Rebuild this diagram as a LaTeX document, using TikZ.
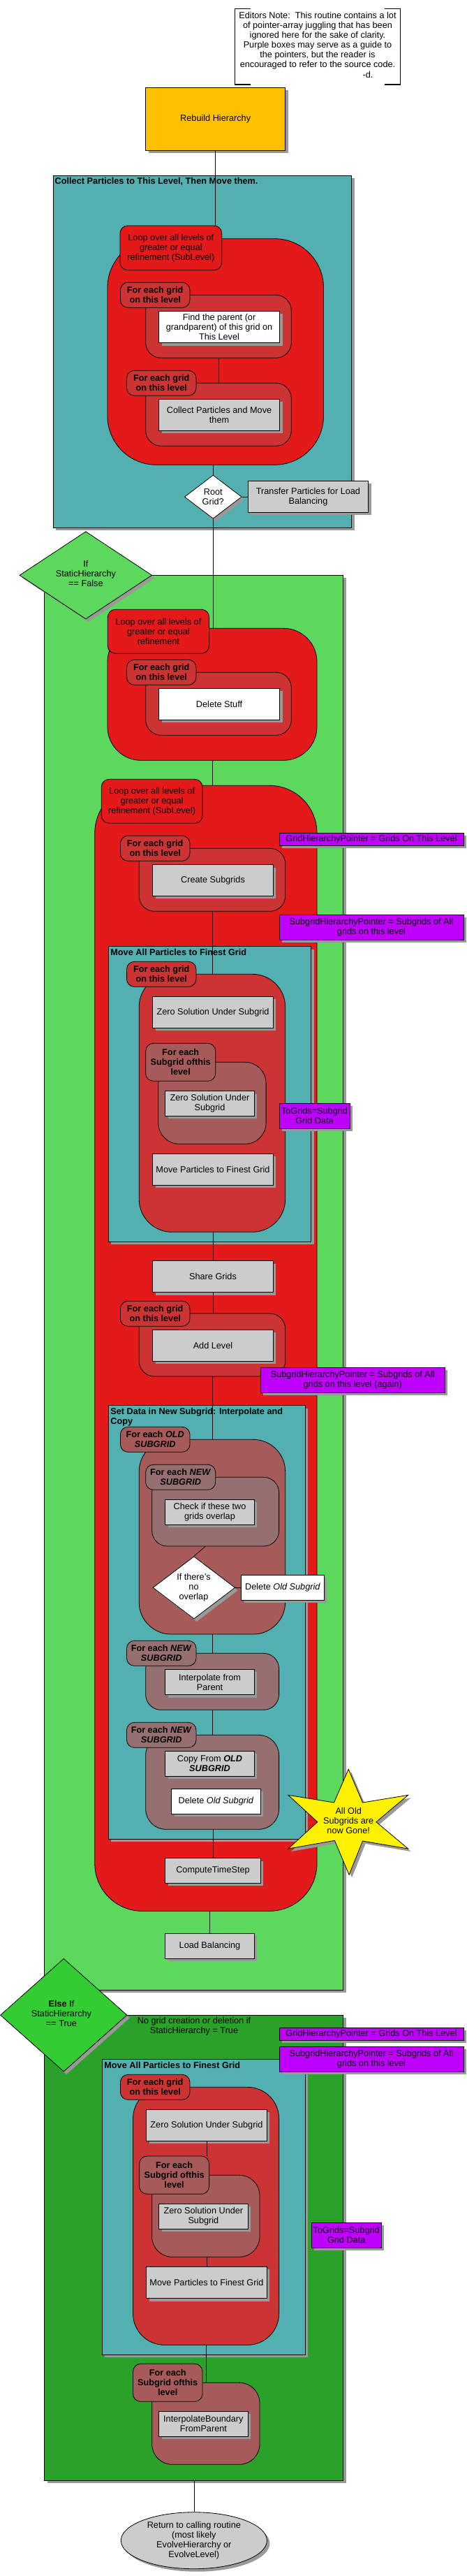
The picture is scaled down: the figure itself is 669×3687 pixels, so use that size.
\documentclass[tikz,border=0pt]{standalone}
\usepackage{fontspec}
\setmainfont{Liberation Sans}
\usetikzlibrary{shapes.geometric,shadows,calc}
\definecolor{shadowgray}{RGB}{153,153,153}
\definecolor{orangeC}{RGB}{255,192,0}
\definecolor{tealC}{RGB}{82,176,176}
\definecolor{redC}{RGB}{228,26,26}
\definecolor{dredC}{RGB}{204,52,52}
\definecolor{brownC}{RGB}{166,90,90}
\definecolor{newC}{RGB}{150,112,112}
\definecolor{lgreenC}{RGB}{92,216,92}
\definecolor{bgreenC}{RGB}{51,204,51}
\definecolor{dgreenC}{RGB}{42,162,42}
\definecolor{purpleC}{RGB}{192,0,255}
\definecolor{grayC}{RGB}{204,204,204}
\newcommand\mkbox[7]{%
  \pgfmathsetmacro\mkW{#5-#3}%
  \pgfmathsetmacro\mkH{#6-#4}%
  \pgfmathsetmacro\mkX{(#3+#5)/2}%
  \pgfmathsetmacro\mkY{(#4+#6)/2}%
  \node[#2, minimum width=\mkW pt, minimum height=\mkH pt] (#1) at (\mkX,\mkY) {#7};%
}
\tikzset{
  base/.style={font=\fontsize{12.7}{14}\selectfont, inner sep=1pt, align=center},
  lw/.style={line width=0.8pt},
  shad/.style={drop shadow={shadow xshift=4pt, shadow yshift=-4pt, fill=shadowgray, opacity=1}},
  pbox/.style={base, rectangle, draw, lw, shad},
  graybox/.style={pbox, fill=grayC},
  whitebox/.style={pbox, fill=white},
  purplebox/.style={pbox, fill=purpleC},
  container/.style={rectangle, draw, lw, shad},
  loopshape/.style={rectangle, draw, lw},
  looplab/.style={base, rectangle, draw, lw, rounded corners=11pt},
  boldlab/.style={looplab, font=\fontsize{12.7}{14}\selectfont\bfseries},
  titletext/.style={anchor=north west, inner sep=0pt, align=left, font=\fontsize{12.7}{14}\selectfont\bfseries},
  dia/.style={diamond, draw, lw, shad, inner sep=0pt},
  conn/.style={line width=0.7pt},
}
\begin{document}
\begin{tikzpicture}[x=1pt,y=-1pt]
\useasboundingbox (0,0) rectangle (669,3687);
\fill[white] (0,0) rectangle (669,3687);

% Editors note
\draw[line width=1.6pt] (359.1,12.3) -- (336.3,12.3) -- (336.3,121) -- (359.1,121);
\draw[line width=1.6pt] (550.6,12.3) -- (573.4,12.3) -- (573.4,121) -- (550.6,121);
\node[base] (notetext) at (455,58) {Editors Note:~~This routine contains a lot\\of pointer-array juggling that has been\\ignored here for the sake of clarity.\\Purple boxes may serve as a guide to\\the pointers, but the reader is\\encouraged to refer to the source code.};
\node[base] (notesig) at (527,107) {-d.};

\mkbox{rebuild}{pbox, fill=orangeC}{208.7}{125.3}{408.7}{215.3}{Rebuild Hierarchy}

% Collect particles
\mkbox{teal1}{container, fill=tealC}{76.3}{251.3}{503.5}{755.3}{}
\node[titletext] (teal1t) at (78.5,254) {Collect Particles to This Level, Then Move them.};
\mkbox{loop1}{loopshape, fill=redC, rounded corners=70pt}{154}{341.7}{463.5}{665.3}{}
\mkbox{lab1}{looplab, fill=redC}{172}{323}{317.7}{386.7}{Loop over all levels of\\greater or equal\\refinement (SubLevel)}
\mkbox{in1}{loopshape, fill=dredC, rounded corners=22pt}{208.7}{422.3}{417.3}{512.3}{}
\mkbox{lab1a}{boldlab, fill=dredC}{172.4}{404.3}{272}{440.3}{For each grid\\on this level}
\mkbox{find}{whitebox}{227.6}{445.3}{400.5}{490.7}{Find the parent (or\\grandparent) of this grid on\\This Level}
\mkbox{in2}{loopshape, fill=dredC, rounded corners=22pt}{208.7}{548.3}{417.3}{638.3}{}
\mkbox{lab1b}{boldlab, fill=dredC}{181.5}{530.3}{281}{566.3}{For each grid\\on this level}
\mkbox{collect}{graybox}{227.6}{571.3}{400.5}{616.3}{Collect Particles and Move\\them}
\mkbox{root}{dia, fill=white}{264.3}{680}{346.2}{742.3}{}
\node[base] (roott) at (root) {Root\\Grid?};
\mkbox{transfer}{graybox}{355.2}{688.3}{527.7}{733.3}{Transfer Particles for Load\\Balancing}

% StaticHierarchy == False
\mkbox{green1}{container, fill=lgreenC}{63.8}{823.3}{491.5}{2848.3}{}
\mkbox{ifd}{dia, fill=lgreenC}{28}{760.7}{217.7}{886}{}
\node[base] (ifdt) at (122.9,821) {If\\StaticHierarchy\\== False};

\mkbox{loop2}{loopshape, fill=redC, rounded corners=48pt}{154}{899.3}{454}{1088.3}{}
\mkbox{lab2}{looplab, fill=redC}{154.3}{872.3}{299.6}{935.3}{Loop over all levels of\\greater or equal\\refinement}
\mkbox{in2a}{loopshape, fill=dredC, rounded corners=22pt}{208.7}{962.3}{417.3}{1052.3}{}
\mkbox{lab2a}{boldlab, fill=dredC}{181.5}{944.3}{281}{980.3}{For each grid\\on this level}
\mkbox{delstuff}{whitebox}{227.6}{985.3}{400.5}{1030.3}{Delete Stuff}

\mkbox{loop3}{loopshape, fill=redC, rounded corners=68pt}{135.8}{1124.3}{454}{2735.3}{}
\mkbox{lab3}{looplab, fill=redC}{145.3}{1115.3}{290}{1178.3}{Loop over all levels of\\greater or equal\\refinement (SubLevel)}
\mkbox{in3a}{loopshape, fill=dredC, rounded corners=22pt}{199.2}{1214.3}{408.7}{1304.3}{}
\mkbox{lab3a}{boldlab, fill=dredC}{172.4}{1196.3}{272}{1232.3}{For each grid\\on this level}
\mkbox{create}{graybox}{218.6}{1237.7}{391.4}{1282.3}{Create Subgrids}

\mkbox{teal2}{container, fill=tealC}{155.2}{1354.7}{445.8}{1777.3}{}
\node[titletext] (teal2t) at (158.2,1358) {Move All Particles to Finest Grid};
\mkbox{in3b}{loopshape, fill=dredC, rounded corners=47pt}{199.2}{1394.3}{408.7}{1763.3}{}
\mkbox{lab3b}{boldlab, fill=dredC}{181.5}{1376.3}{281}{1412.3}{For each grid\\on this level}
\mkbox{zero1}{graybox}{218.6}{1426.3}{391.4}{1471.3}{Zero Solution Under Subgrid}
\mkbox{sg1}{loopshape, fill=brownC, rounded corners=30pt}{226.8}{1520.3}{381.1}{1637.3}{}
\mkbox{labsg1}{boldlab, fill=brownC}{208.7}{1493.3}{308.7}{1547.3}{For each\\Subgrid ofthis\\level}
\mkbox{zero1b}{graybox}{236.7}{1561.7}{364.3}{1597.3}{Zero Solution Under\\Subgrid}
\mkbox{mp1}{graybox}{218.6}{1651.3}{391.4}{1696.3}{Move Particles to Finest Grid}

\mkbox{share}{graybox}{218.6}{1804.7}{391.4}{1849.7}{Share Grids}
\mkbox{in3c}{loopshape, fill=dredC, rounded corners=22pt}{199.2}{1880}{408.7}{1970}{}
\mkbox{lab3c}{boldlab, fill=dredC}{172.4}{1862.3}{272}{1898.3}{For each grid\\on this level}
\mkbox{addlvl}{graybox}{218.6}{1903.3}{391.4}{1948.3}{Add Level}

\mkbox{teal3}{container, fill=tealC}{155.2}{2011.7}{437.2}{2632.3}{}
\node[titletext] (teal3t) at (158.2,2015) {Set Data in New Subgrid: Interpolate and\\Copy};
\mkbox{old}{loopshape, fill=brownC, rounded corners=46pt}{199.2}{2060.3}{408.7}{2339}{}
\mkbox{labold}{boldlab, fill=brownC}{172.4}{2042.3}{272}{2078.3}{For each \textit{OLD}\\\textit{SUBGRID}}
\mkbox{new1}{loopshape, fill=newC, rounded corners=22pt}{217.7}{2114.3}{399.6}{2213}{}
\mkbox{labnew1}{boldlab, fill=newC}{208.7}{2096.3}{308.7}{2132.3}{For each \textit{NEW}\\\textit{SUBGRID}}
\mkbox{check}{graybox}{236.7}{2146.3}{364.3}{2182.3}{Check if these two\\grids overlap}
\mkbox{ovl}{dia, fill=white}{219}{2227.7}{336.7}{2317}{}
\node[base] (ovlt) at (277.5,2272) {If there's\\no\\overlap};
\mkbox{delold1}{whitebox}{345.7}{2254.3}{464.3}{2290.3}{Delete \textit{Old Subgrid}}
\mkbox{new2}{loopshape, fill=newC, rounded corners=22pt}{208.7}{2366.3}{399.6}{2447.3}{}
\mkbox{labnew2}{boldlab, fill=newC}{181.5}{2348.3}{281}{2384.3}{For each \textit{NEW}\\\textit{SUBGRID}}
\mkbox{interp}{graybox}{236.7}{2389.3}{364.3}{2425.7}{Interpolate from\\Parent}
\mkbox{new3}{loopshape, fill=newC, rounded corners=29pt}{208.7}{2483.3}{399.6}{2618.3}{}
\mkbox{labnew3}{boldlab, fill=newC}{181.5}{2465.3}{281}{2501.3}{For each \textit{NEW}\\\textit{SUBGRID}}
\mkbox{copy}{graybox}{236.7}{2506.3}{364.3}{2542.3}{Copy From \textbf{\textit{OLD}}\\\textbf{\textit{SUBGRID}}}
\mkbox{delold2}{whitebox}{245.7}{2560.3}{373.3}{2596.3}{Delete \textit{Old Subgrid}}

\mkbox{cts}{graybox}{236.7}{2659.7}{373.3}{2695.3}{ComputeTimeStep}
\mkbox{lb}{graybox}{236.7}{2767.3}{364.3}{2803.3}{Load Balancing}

% pointer notes
\mkbox{pp1}{purplebox}{400}{1192.3}{664}{1210.3}{GridHierarchyPointer = Grids On This Level}
\mkbox{pp2}{purplebox}{400}{1309.3}{664}{1345.3}{SubgridHierarchyPointer = Subgrids of All\\grids on this level}
\mkbox{pp3}{purplebox}{400}{1579.3}{501}{1615.3}{ToGrids=Subgrid\\Grid Data}
\mkbox{pp4}{purplebox}{373.3}{1957.3}{637.2}{1993.3}{SubgridHierarchyPointer = Subgrids of All\\grids on this level (again)}

% star
\path[shad, draw, lw, fill=yellow] (499.2,2532.3) -- (519.5,2580) -- (584.6,2569.3) -- (538.9,2607.7) -- (584.6,2646) -- (519.5,2635) -- (500.1,2683.3) -- (479.4,2634.3) -- (413,2646) -- (454.8,2607.7) -- (413,2569.3) -- (478.5,2580) -- cycle;
\node[base] (startext) at (499.2,2605.7) {All Old\\Subgrids are\\now Gone!};

% StaticHierarchy == True
\mkbox{green2}{container, fill=dgreenC}{63.8}{2884.3}{491.5}{3550.3}{}
\mkbox{elsed}{dia, fill=bgreenC}{0.5}{2803.3}{182}{2965}{}
\node[base] (elsedt) at (88,2882) {\textbf{Else} If\\StaticHierarchy\\== True};
\node[base] (nogrid) at (278,2899.7) {No grid creation or deletion if\\StaticHierarchy = True};

\mkbox{teal4}{container, fill=tealC}{146.1}{2947.3}{437.2}{3370.3}{}
\node[titletext] (teal4t) at (149.2,2951) {Move All Particles to Finest Grid};
\mkbox{red4}{loopshape, fill=dredC, rounded corners=45pt}{190.5}{2987.3}{399.6}{3356.3}{}
\mkbox{lab4}{boldlab, fill=dredC}{172.4}{2969.3}{272}{3005.3}{For each grid\\on this level}
\mkbox{zero2}{graybox}{209.5}{3019.3}{382.4}{3064.3}{Zero Solution Under Subgrid}
\mkbox{sub2}{loopshape, fill=brownC, rounded corners=29pt}{217.7}{3113.3}{372}{3230.3}{}
\mkbox{labsub2}{boldlab, fill=brownC}{199.6}{3086}{299.6}{3140.3}{For each\\Subgrid ofthis\\level}
\mkbox{zero2b}{graybox}{227.6}{3154.3}{355.2}{3190.3}{Zero Solution Under\\Subgrid}
\mkbox{mp2}{graybox}{209.5}{3244.3}{382.4}{3289.7}{Move Particles to Finest Grid}
\mkbox{pp5}{purplebox}{400}{2902.3}{664}{2920.3}{GridHierarchyPointer = Grids On This Level}
\mkbox{pp6}{purplebox}{400}{2929.3}{664}{2965.3}{SubgridHierarchyPointer = Subgrids of All\\grids on this level}
\mkbox{pp7}{purplebox}{446.2}{3181.3}{546.2}{3217.3}{ToGrids=Subgrid\\Grid Data}

\mkbox{sub3}{loopshape, fill=brownC, rounded corners=29pt}{217.7}{3410.3}{372}{3527.3}{}
\mkbox{labsub3}{boldlab, fill=brownC}{190.5}{3383.3}{290}{3437.3}{For each\\Subgrid ofthis\\level}
\mkbox{ibfp}{graybox}{227.6}{3451.3}{355.2}{3487.3}{InterpolateBoundary\\FromParent}

\mkbox{ret}{ellipse, draw, lw, shad, fill=grayC, inner sep=0pt}{173.3}{3595.7}{382.4}{3676.7}{}
\node[base] (rett) at (ret) {Return to calling routine\\(most likely\\EvolveHierarchy or\\EvolveLevel)};

% connectors
\draw[conn] (rebuild.south) -- (rebuild.south |- lab1.north);
\draw[conn] (in1.south) -- (in2.north);
\draw[conn] (root.north) -- (root.north |- loop1.south);
\draw[conn] (root.east) -- (root.east -| transfer.west);
\draw[conn] (root.south) -- (root.south |- loop2.north);
\draw[conn] (loop2.south) -- (loop2.south |- loop3.north);
\draw[conn] (in3a.south) -- (in3a.south |- in3b.north);
\draw[conn] (share.north) -- (share.north |- in3b.south);
\draw[conn] (share.south) -- (share.south |- in3c.north);
\draw[conn] (in3c.south) -- (in3c.south |- old.north);
\draw[conn] ($(new1.south west)!0.42!(new1.south east)$) -- (ovl.north);
\draw[conn] (ovl.east) -- (ovl.east -| delold1.west);
\draw[conn] (old.south) -- (old.south |- new2.north);
\draw[conn] (new2.south) -- (new2.south |- new3.north);
\draw[conn] (cts.north) -- (cts.north |- new3.south);
\draw[conn] (lb.north) -- (lb.north |- loop3.south);
\draw[conn] (zero2.south) -- (zero2.south |- labsub2.north);
\draw[conn] (mp2.north) -- (mp2.north |- sub2.south);
\draw[conn] (red4.south) -- (red4.south |- sub3.north);
\draw[conn] (ret.north) -- (ret.north |- green2.south);
\end{tikzpicture}
\end{document}
